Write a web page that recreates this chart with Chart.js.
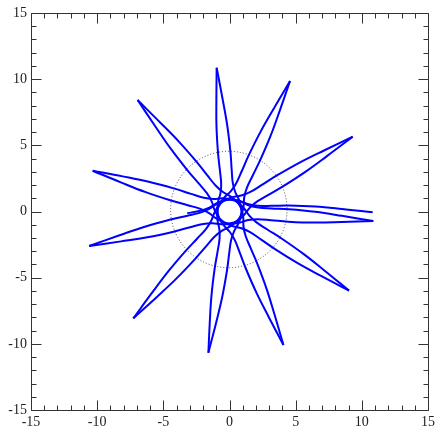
<!DOCTYPE html>
<html><head><meta charset="utf-8">
<script src="https://cdn.jsdelivr.net/npm/chart.js@4/dist/chart.umd.min.js"></script>
<style>html,body{margin:0;padding:0;background:#fff}#wrap{width:439px;height:430px}</style>
</head><body><div id="wrap"><canvas id="c" width="439" height="430"></canvas></div>
<script>
const axisMin = -15, axisMax = 15;
const xTicks = [-15,-10,-5,0,5,10,15];
const yTicks = [-15,-10,-5,0,5,10,15];
const circleCenter = [-0.05, 0.15];
const circleRadius = 4.4;

// orbit passages, points as [radius, angle in degrees]
const pass1 = [[10.82,-0.3],[8.5,1.3],[6.5,3.3],[4.5,5.7],[3.2,7.7],[2.2,11.2],[1.55,20.7],[1.15,42.7],[0.95,69.7],[0.9,96.75],[0.95,123.8],[1.15,150.8],[1.55,172.8],[2.2,182.3],[3.2,185.8],[4.5,187.8],[6.5,190.2],[8.5,192.2],[10.92,193.8]];
const pass2 = [[10.92,193.8],[8.5,195.4],[6.5,197.4],[4.5,199.8],[3.2,201.8],[2.2,205.3],[1.55,214.8],[1.15,236.8],[0.95,263.8],[0.9,292.5],[0.95,321.25],[1.15,348.25],[1.55,370.25],[2.2,379.75],[3.2,383.25],[4.5,385.25],[6.5,387.65],[8.5,389.65],[10.89,391.25]];
const pass3 = [[10.89,31.25],[8.5,32.85],[6.5,34.85],[4.5,37.25],[3.2,39.25],[2.2,42.75],[1.55,52.25],[1.15,74.25],[0.95,101.25],[0.9,129.6],[0.95,158],[1.15,185],[1.55,207],[2.2,216.5],[3.2,220],[4.5,222],[6.5,224.4],[8.5,226.4],[10.86,228]];
const pass4 = [[10.86,228],[8.5,229.6],[6.5,231.6],[4.5,234],[3.2,236],[2.2,239.5],[1.55,249],[1.15,271],[0.95,298],[0.9,326.55],[0.95,355.1],[1.15,382.1],[1.55,404.1],[2.2,413.6],[3.2,417.1],[4.5,419.1],[6.5,421.5],[8.5,423.5],[10.87,425.1]];
const pass5 = [[10.87,65.1],[8.5,66.7],[6.5,68.7],[4.5,71.1],[3.2,73.1],[2.2,76.6],[1.55,86.1],[1.15,108.1],[0.95,135.1],[0.9,163.3],[0.95,191.5],[1.15,218.5],[1.55,240.5],[2.2,250],[3.2,253.5],[4.5,255.5],[6.5,257.9],[8.5,259.9],[10.79,261.5]];
const pass6 = [[10.79,261.5],[8.5,263.1],[6.5,265.1],[4.5,267.5],[3.2,269.5],[2.2,273],[1.55,282.5],[1.15,304.5],[0.95,331.5],[0.9,358.3],[0.95,385.1],[1.15,412.1],[1.55,434.1],[2.2,443.6],[3.2,447.1],[4.5,449.1],[6.5,451.5],[8.5,453.5],[10.91,455.1]];
const pass7 = [[10.91,95.1],[8.5,96.7],[6.5,98.7],[4.5,101.1],[3.2,103.1],[2.2,106.6],[1.55,116.1],[1.15,138.1],[0.95,165.1],[0.9,193.55],[0.95,222],[1.15,249],[1.55,271],[2.2,280.5],[3.2,284],[4.5,286],[6.5,288.4],[8.5,290.4],[10.88,292]];
const pass8 = [[10.88,292],[8.5,293.6],[6.5,295.6],[4.5,298],[3.2,300],[2.2,303.5],[1.55,313],[1.15,335],[0.95,362],[0.9,390.75],[0.95,419.5],[1.15,446.5],[1.55,468.5],[2.2,478],[3.2,481.5],[4.5,483.5],[6.5,485.9],[8.5,487.9],[10.92,489.5]];
const pass9 = [[10.92,129.5],[8.5,131.1],[6.5,133.1],[4.5,135.5],[3.2,137.5],[2.2,141],[1.55,150.5],[1.15,172.5],[0.95,199.5],[0.9,228],[0.95,256.5],[1.15,283.5],[1.55,305.5],[2.2,315],[3.2,318.5],[4.5,320.5],[6.5,322.9],[8.5,324.9],[10.83,326.5]];
const pass10 = [[10.83,326.5],[8.5,328.1],[6.5,330.1],[4.5,332.5],[3.2,334.5],[2.2,338],[1.55,347.5],[1.15,369.5],[0.95,396.5],[0.9,424.95],[0.95,453.4],[1.15,480.4],[1.55,502.4],[2.2,511.9],[3.2,515.4],[4.5,517.4],[6.5,519.8],[8.5,521.8],[10.79,523.4]];
const pass11 = [[10.79,163.4],[8.5,165],[6.5,167],[4.5,169.4],[3.2,171.4],[2.2,174.9],[1.55,184.4],[1.15,206.4],[0.95,233.4],[0.9,259.8],[0.95,286.2],[1.15,313.2],[1.55,335.2],[2.2,344.7],[3.2,348.2],[4.5,350.2],[6.5,352.6],[8.5,354.6],[10.89,356.2]];
const pass12 = [[10.89,356.2],[8.5,357.8],[6.5,359.8],[4.5,362.2],[3.2,364.2],[2.2,367.7],[1.55,377.2],[1.15,399.2],[0.95,426.2],[0.9,453.2],[0.95,480.2],[1.15,507.2],[1.55,529.2],[2.2,538.7],[3.2,542.2]];
const passes = [pass1,pass2,pass3,pass4,pass5,pass6,pass7,pass8,pass9,pass10,pass11,pass12];

const toXY = p => ({x: p[0]*Math.cos(p[1]*Math.PI/180), y: p[0]*Math.sin(p[1]*Math.PI/180)});

const frameColor = '#333';
const framePlugin = {
  id: 'frame',
  beforeDatasetsDraw(chart) {
    const {ctx, scales: {x, y}} = chart;
    ctx.save();
    const cx = x.getPixelForValue(circleCenter[0]);
    const cy = y.getPixelForValue(circleCenter[1]);
    const rx = Math.abs(x.getPixelForValue(circleCenter[0] + circleRadius) - cx);
    const ry = Math.abs(y.getPixelForValue(circleCenter[1] + circleRadius) - cy);
    ctx.strokeStyle = '#444';
    ctx.lineWidth = 1;
    ctx.setLineDash([1, 2]);
    ctx.beginPath();
    ctx.ellipse(cx, cy, rx, ry, 0, 0, Math.PI * 2);
    ctx.stroke();
    ctx.restore();
  },
  afterDraw(chart) {
    const {ctx, chartArea: a, scales: {x, y}} = chart;
    ctx.save();
    ctx.strokeStyle = frameColor;
    ctx.lineWidth = 1;
    const L = Math.round(a.left) + 0.5, R = Math.round(a.right) + 0.5;
    const T = Math.round(a.top) + 0.5, B = Math.round(a.bottom) + 0.5;
    ctx.beginPath();
    ctx.rect(L, T, R - L, B - T);
    for (let v = axisMin; v <= axisMax; v++) {
      const len = v % 5 === 0 ? 10 : 5;
      const px = Math.round(x.getPixelForValue(v)) + 0.5;
      const py = Math.round(y.getPixelForValue(v)) + 0.5;
      ctx.moveTo(px, B); ctx.lineTo(px, B - len);
      ctx.moveTo(px, T); ctx.lineTo(px, T + len);
      ctx.moveTo(L, py); ctx.lineTo(L + len, py);
      ctx.moveTo(R, py); ctx.lineTo(R - len, py);
    }
    ctx.stroke();
    ctx.restore();
  }
};

const tickFont = {family: "'Liberation Serif', 'Times New Roman', serif", size: 14};

new Chart(document.getElementById('c'), {
  type: 'scatter',
  data: {
    datasets: passes.map(p => ({
      data: p.map(toXY),
      showLine: true,
      borderColor: '#0000ff',
      borderWidth: 2,
      pointRadius: 0,
      tension: 0.4,
      fill: false
    }))
  },
  options: {
    responsive: false,
    devicePixelRatio: 1,
    animation: false,
    layout: {padding: {left: 0, right: 11, top: 13, bottom: 0}},
    plugins: {legend: {display: false}, tooltip: {enabled: false}},
    scales: {
      x: {
        type: 'linear', min: axisMin, max: axisMax,
        afterBuildTicks: s => { s.ticks = xTicks.map(v => ({value: v})); },
        afterFit: s => { s.height = 20; },
        grid: {display: false, drawTicks: false},
        border: {display: false},
        ticks: {font: tickFont, color: '#222', padding: 4, maxRotation: 0, autoSkip: false}
      },
      y: {
        type: 'linear', min: axisMin, max: axisMax,
        afterBuildTicks: s => { s.ticks = yTicks.map(v => ({value: v})); },
        afterFit: s => { s.width = 31; },
        grid: {display: false, drawTicks: false},
        border: {display: false},
        ticks: {font: tickFont, color: '#222', padding: 4, autoSkip: false}
      }
    }
  },
  plugins: [framePlugin]
});
</script>
</body></html>
